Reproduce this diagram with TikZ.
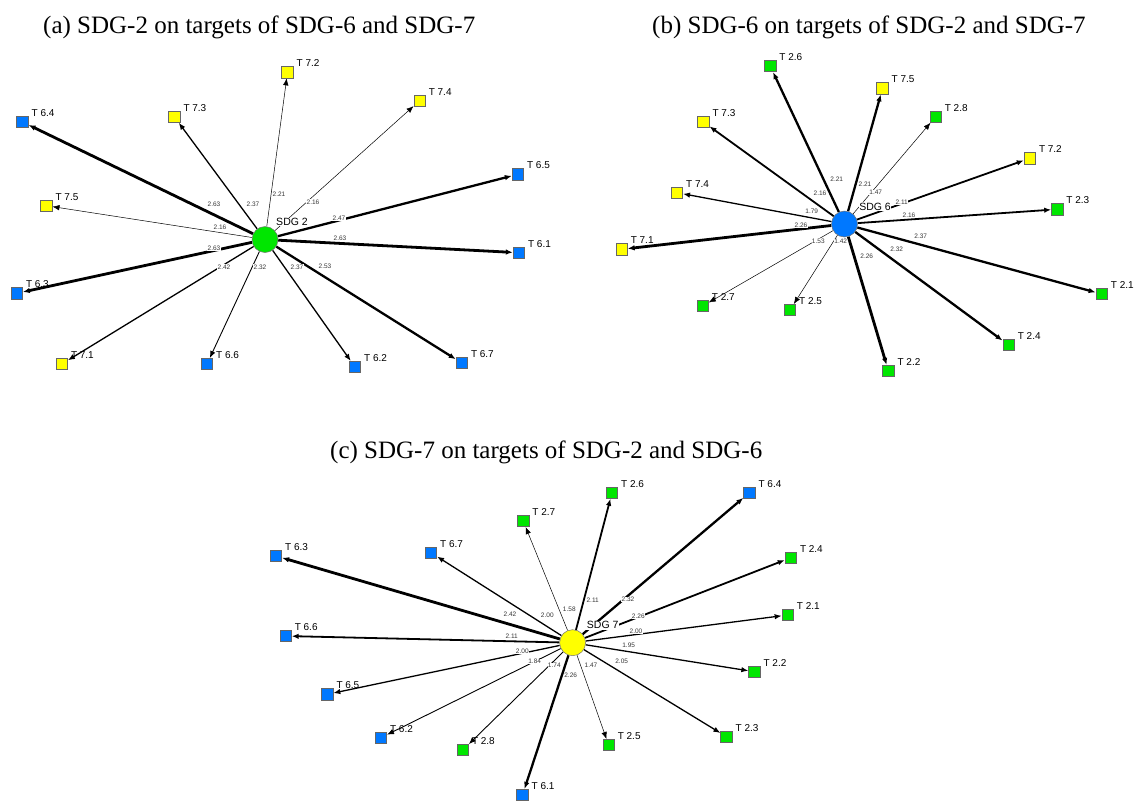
\documentclass[tikz,border=0pt]{standalone}
\usepackage{fontspec}
\setmainfont{Liberation Serif}
\newfontfamily\lblfont{Liberation Sans}
\usetikzlibrary{arrows.meta,calc}
\definecolor{cyel}{RGB}{255,255,0}
\definecolor{cblu}{RGB}{0,120,255}
\definecolor{cgrn}{RGB}{0,230,0}
\definecolor{cnum}{RGB}{55,55,55}
\pgfdeclarelayer{back}
\pgfdeclarelayer{bg}
\pgfsetlayers{back,bg,main}
\tikzset{
  hub/.style={circle, draw=black!55, line width=0.5pt, minimum size=26pt, inner sep=0pt},
  sq/.style={rectangle, draw=black!60, line width=0.6pt, minimum size=11.5pt, inner sep=0pt},
  tl/.style={font=\lblfont\fontsize{10}{12}\selectfont, anchor=base west, inner sep=0pt},
  hl/.style={font=\lblfont\fontsize{10.5}{12}\selectfont, fill=white, inner sep=0.6pt},
  num/.style={font=\lblfont\fontsize{6.5}{7}\selectfont, text=cnum, fill=white, inner sep=0.4pt},
  ttl/.style={font=\fontsize{25}{30}\selectfont, anchor=base west, inner sep=0pt},
  arr/.style={draw=black, -{Latex[length=7pt,width=5.5pt]}},
  w1/.style={line width=0.5pt},
  w2/.style={line width=0.9pt},
  w3/.style={line width=1.3pt},
  w4/.style={line width=1.8pt},
  w5/.style={line width=2.3pt},
  w6/.style={line width=2.8pt}
}
\newcommand\tgt[5]{%
  \node[sq,fill=#5] (#1) at (#2,#3) {};
  \node[tl] (#1l) at ([shift={(9,-5.5)}]#1.center) {#4};}
\newcommand\lnk[6]{%
  \begin{pgfonlayer}{bg}\draw[arr,#3] (#1) -- (#2);\end{pgfonlayer}
  \node[num] (n#2) at (#5,#6) {#4};}
\begin{document}
\begin{tikzpicture}[x=1pt,y=-1pt]
\begin{pgfonlayer}{back}
\fill[white] (0,0) rectangle (1137,804);
\end{pgfonlayer}
\useasboundingbox (0,0) rectangle (1137,804);

% titles
\node[ttl] (ta) at (43,33) {(a) SDG-2 on targets of SDG-6 and SDG-7};
\node[ttl] (tb) at (652,33) {(b) SDG-6 on targets of SDG-2 and SDG-7};
\node[ttl] (tc) at (330,458) {(c) SDG-7 on targets of SDG-2 and SDG-6};

% ---------- panel (a)
\node[hub,fill=cgrn] (ha) at (265,239.5) {};
\tgt{a72}{287.5}{72.3}{T 7.2}{cyel}
\tgt{a74}{419.6}{100.7}{T 7.4}{cyel}
\tgt{a73}{174.3}{116.7}{T 7.3}{cyel}
\tgt{a64}{22.5}{122}{T 6.4}{cblu}
\tgt{a65}{517.9}{174.3}{T 6.5}{cblu}
\tgt{a75}{46.4}{205.7}{T 7.5}{cyel}
\tgt{a61}{518.9}{252.7}{T 6.1}{cblu}
\tgt{a63}{16.8}{293.3}{T 6.3}{cblu}
\tgt{a71}{61.8}{364}{T 7.1}{cyel}
\tgt{a66}{207}{364}{T 6.6}{cblu}
\tgt{a62}{355}{367}{T 6.2}{cblu}
\tgt{a67}{461.8}{363}{T 6.7}{cblu}
\lnk{ha}{a64}{w6}{2.63}{214}{204}
\lnk{ha}{a73}{w3}{2.37}{253}{204}
\lnk{ha}{a72}{w1}{2.21}{279}{194}
\lnk{ha}{a74}{w1}{2.16}{313}{202}
\lnk{ha}{a65}{w5}{2.47}{339}{218}
\lnk{ha}{a61}{w6}{2.63}{340}{238}
\lnk{ha}{a75}{w1}{2.16}{220}{227}
\lnk{ha}{a63}{w6}{2.63}{214}{248}
\lnk{ha}{a71}{w3}{2.42}{224}{267}
\lnk{ha}{a66}{w2}{2.32}{260}{267}
\lnk{ha}{a62}{w3}{2.37}{297}{267}
\lnk{ha}{a67}{w5}{2.53}{325}{266}
\node[hl] (hal) at (292,222) {SDG 2};

% ---------- panel (b)
\node[hub,fill=cblu] (hb) at (844.5,224) {};
\tgt{b26}{770.2}{66}{T 2.6}{cgrn}
\tgt{b75}{882.5}{88.3}{T 7.5}{cyel}
\tgt{b28}{935.6}{116.7}{T 2.8}{cgrn}
\tgt{b73}{703.4}{122}{T 7.3}{cyel}
\tgt{b72}{1029.8}{158.3}{T 7.2}{cyel}
\tgt{b74}{677}{192.7}{T 7.4}{cyel}
\tgt{b23}{1057.2}{209.3}{T 2.3}{cgrn}
\tgt{b71}{621.6}{249.3}{T 7.1}{cyel}
\tgt{b21}{1101.7}{294}{T 2.1}{cgrn}
\tgt{b27}{702.7}{306}{T 2.7}{cgrn}
\tgt{b25}{790}{310}{T 2.5}{cgrn}
\tgt{b24}{1008.6}{345}{T 2.4}{cgrn}
\tgt{b22}{888.4}{371}{T 2.2}{cgrn}
\lnk{hb}{b26}{w5}{2.21}{836.7}{179.3}
\lnk{hb}{b75}{w5}{2.21}{865}{184.3}
\lnk{hb}{b28}{w1}{1.47}{875.7}{192.7}
\lnk{hb}{b73}{w4}{2.16}{820}{193.3}
\lnk{hb}{b72}{w4}{2.11}{901.7}{202.3}
\lnk{hb}{b74}{w3}{1.79}{811.7}{211.7}
\lnk{hb}{b23}{w4}{2.16}{909}{215.7}
\lnk{hb}{b71}{w6}{2.26}{801}{225}
\lnk{hb}{b21}{w5}{2.37}{920.7}{236}
\lnk{hb}{b27}{w1}{1.53}{818.3}{241}
\lnk{hb}{b25}{w1}{1.42}{840.7}{241.7}
\lnk{hb}{b24}{w5}{2.32}{896.7}{249}
\lnk{hb}{b22}{w6}{2.26}{866.7}{256}
\node[hl] (hbl) at (875,206.7) {SDG 6};

% ---------- panel (c)
\node[hub,fill=cyel] (hc) at (572.6,642.7) {};
\tgt{c26}{612}{492.7}{T 2.6}{cgrn}
\tgt{c64}{749.4}{492.7}{T 6.4}{cblu}
\tgt{c27}{523.2}{521}{T 2.7}{cgrn}
\tgt{c63}{276}{556}{T 6.3}{cblu}
\tgt{c67}{431}{552.7}{T 6.7}{cblu}
\tgt{c24}{790.8}{557.7}{T 2.4}{cgrn}
\tgt{c21}{787.7}{615}{T 2.1}{cgrn}
\tgt{c66}{285.6}{636}{T 6.6}{cblu}
\tgt{c22}{754.4}{671.7}{T 2.2}{cgrn}
\tgt{c65}{327.3}{694.3}{T 6.5}{cblu}
\tgt{c62}{380.9}{737.7}{T 6.2}{cblu}
\tgt{c23}{726.5}{736.7}{T 2.3}{cgrn}
\tgt{c25}{608.6}{745}{T 2.5}{cgrn}
\tgt{c28}{462.8}{750}{T 2.8}{cgrn}
\tgt{c61}{522.5}{795}{T 6.1}{cblu}
\lnk{hc}{c63}{w6}{2.42}{510}{614.3}
\lnk{hc}{c67}{w3}{2.00}{547.3}{615.3}
\lnk{hc}{c27}{w1}{1.58}{569.3}{609}
\lnk{hc}{c26}{w4}{2.11}{592.7}{600.3}
\lnk{hc}{c64}{w5}{2.32}{628}{599.7}
\lnk{hc}{c24}{w4}{2.26}{638.3}{616}
\lnk{hc}{c21}{w3}{2.00}{636}{631}
\lnk{hc}{c66}{w4}{2.11}{511.7}{636}
\lnk{hc}{c22}{w3}{1.95}{628.7}{645.7}
\lnk{hc}{c65}{w3}{2.00}{522.3}{651}
\lnk{hc}{c62}{w2}{1.84}{534.7}{661.7}
\lnk{hc}{c28}{w2}{1.74}{554.3}{665.3}
\lnk{hc}{c25}{w1}{1.47}{591}{665.3}
\lnk{hc}{c23}{w3}{2.05}{621.7}{661}
\lnk{hc}{c61}{w5}{2.26}{570.7}{675.7}
\node[hl] (hcl) at (602.7,625.3) {SDG 7};
\end{tikzpicture}
\end{document}
